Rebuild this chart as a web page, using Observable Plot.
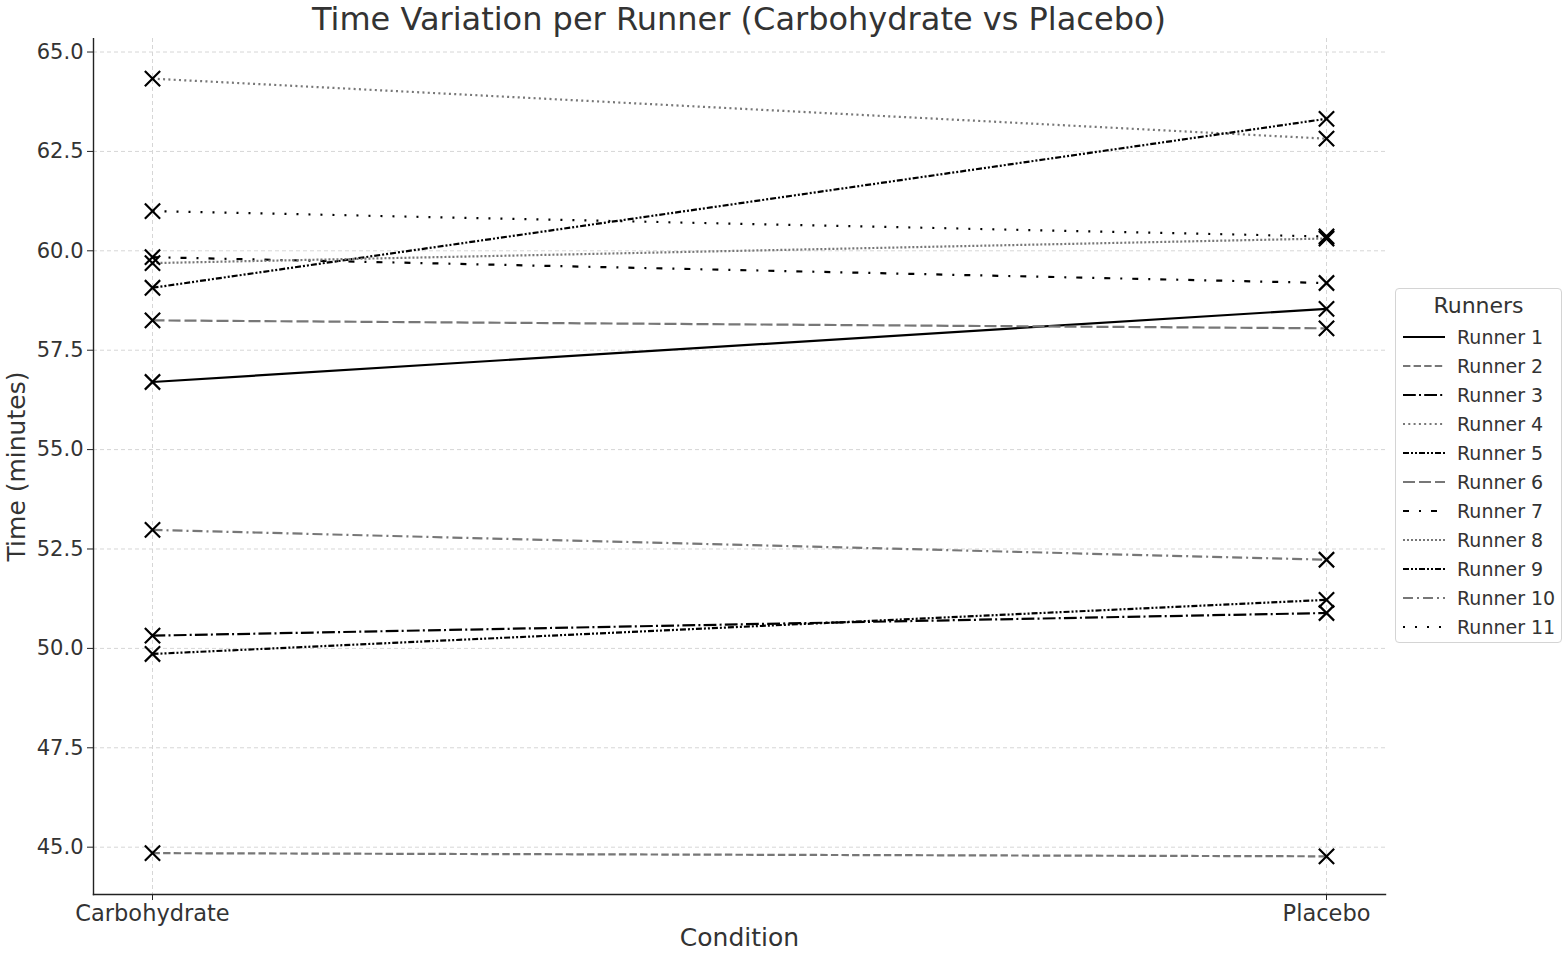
<!DOCTYPE html>
<html>
<head>
<meta charset="utf-8">
<script src="https://cdn.jsdelivr.net/npm/d3@7"></script>
<script src="https://cdn.jsdelivr.net/npm/@observablehq/plot@0.6"></script>
<style>
  html, body { margin: 0; padding: 0; background: #fff; }
  body { width: 1566px; height: 953px; overflow: hidden; font-family: "DejaVu Sans", sans-serif; }
  #wrap { position: relative; width: 1566px; height: 953px; }
  #title { height: 38px; font-size: 32px; line-height: 38px; color: #333; text-align: center; width: 1478px; white-space: nowrap; }
  #legend { position: absolute; left: 1395px; top: 288px; width: 167px; height: 355px; border: 1.5px solid #d4d4d4; border-radius: 4px; background: #fff; box-sizing: border-box; }
  #legend .lt { text-align: center; font-size: 22px; color: #333; margin-top: 4px; height: 30px; }
  #legend .row { position: absolute; left: 0; height: 29px; width: 100%; }
  #legend .row svg { position: absolute; left: 6px; top: 0; }
  #legend .row span { position: absolute; left: 61px; top: 3px; font-size: 19px; color: #333; white-space: nowrap; }
</style>
</head>
<body>
<div id="wrap">
  <div id="title">Time Variation per Runner (Carbohydrate vs Placebo)</div>
  <div id="chart"></div>
  <div id="legend"><div class="lt">Runners</div></div>
</div>
<script>
// ---- data ----
const conditions = ["Carbohydrate", "Placebo"];
const runners = ["Runner 1", "Runner 2", "Runner 3", "Runner 4", "Runner 5", "Runner 6", "Runner 7", "Runner 8", "Runner 9", "Runner 10", "Runner 11"];
const carbohydrateTimes = [56.70, 44.85, 50.32, 64.33, 59.07, 58.25, 59.84, 59.69, 49.86, 52.98, 61.00];
const placeboTimes      = [58.54, 44.77, 50.89, 62.82, 63.32, 58.05, 59.19, 60.31, 51.22, 52.23, 60.36];
const yTicks = [45.0, 47.5, 50.0, 52.5, 55.0, 57.5, 60.0, 62.5, 65.0];

// ---- styles ----
const runnerColors = ["#000", "#777", "#000", "#777", "#000", "#777", "#000", "#777", "#000", "#777", "#000"];
const runnerDashes = ["none", "7.4,3.2", "12.8,3.2,2,3.2", "2,3.3", "6,2,2,2,2,2", "12,4", "6,10,2,10", "2,2", "6,2,2,2,2,2", "10,4,2,4", "2,10"];

const rows = [];
runners.forEach((r, i) => {
  rows.push({runner: r, condition: conditions[0], time: carbohydrateTimes[i]});
  rows.push({runner: r, condition: conditions[1], time: placeboTimes[i]});
});

const lineMarks = runners.map((r, i) =>
  Plot.line(rows.filter(d => d.runner === r), {
    x: "condition", y: "time",
    stroke: runnerColors[i], strokeWidth: 2.2, strokeLinecap: "butt",
    strokeDasharray: runnerDashes[i] === "none" ? null : runnerDashes[i]
  })
);

const chart = Plot.plot({
  width: 1566,
  height: 915,
  marginLeft: 93,
  marginRight: 181,
  marginTop: 0,
  marginBottom: 59,
  style: {fontFamily: "DejaVu Sans, sans-serif", color: "#333", background: "#fff"},
  x: {type: "point", domain: conditions, padding: 0.05, label: null},
  y: {domain: [43.81, 65.34], label: null},
  marks: [
    Plot.gridX(conditions, {stroke: "#d6d6d6", strokeOpacity: 1, strokeDasharray: "4,3", strokeWidth: 1}),
    Plot.gridY(yTicks, {stroke: "#d6d6d6", strokeOpacity: 1, strokeDasharray: "4,3", strokeWidth: 1}),
    Plot.axisY(yTicks, {tickFormat: d => d.toFixed(1), tickSize: 6, tickPadding: 4, fontSize: 21, stroke: "#222", label: "Time (minutes)", labelAnchor: "center", labelArrow: "none", labelOffset: 86}),
    Plot.axisX(conditions, {tickSize: 6, tickPadding: 5, fontSize: 22.5, stroke: "#222", label: "Condition", labelAnchor: "center", labelArrow: "none", labelOffset: 51}),
    Plot.frame({anchor: "left", stroke: "#222", strokeWidth: 1.4}),
    Plot.frame({anchor: "bottom", stroke: "#222", strokeWidth: 1.4}),
    ...lineMarks,
    Plot.dot(rows, {x: "condition", y: "time", symbol: "times", r: 7, stroke: "#000", strokeWidth: 2.2})
  ]
});
document.getElementById("chart").appendChild(chart);

// axis label font sizes
chart.querySelectorAll("[aria-label='y-axis label'] text, [aria-label='x-axis label'] text").forEach(t => {
  t.style.fontSize = "25px";
});

// ---- legend ----
const legend = document.getElementById("legend");
runners.forEach((r, i) => {
  const row = document.createElement("div");
  row.className = "row";
  row.style.top = (34 + i * 29) + "px";
  const dash = runnerDashes[i] === "none" ? "" : `stroke-dasharray="${runnerDashes[i]}"`;
  row.innerHTML = `<svg width="44" height="29"><line x1="1" x2="43" y1="14" y2="14" stroke="${runnerColors[i]}" stroke-width="2.2" ${dash}/></svg><span>${r}</span>`;
  legend.appendChild(row);
});
</script>
</body>
</html>
